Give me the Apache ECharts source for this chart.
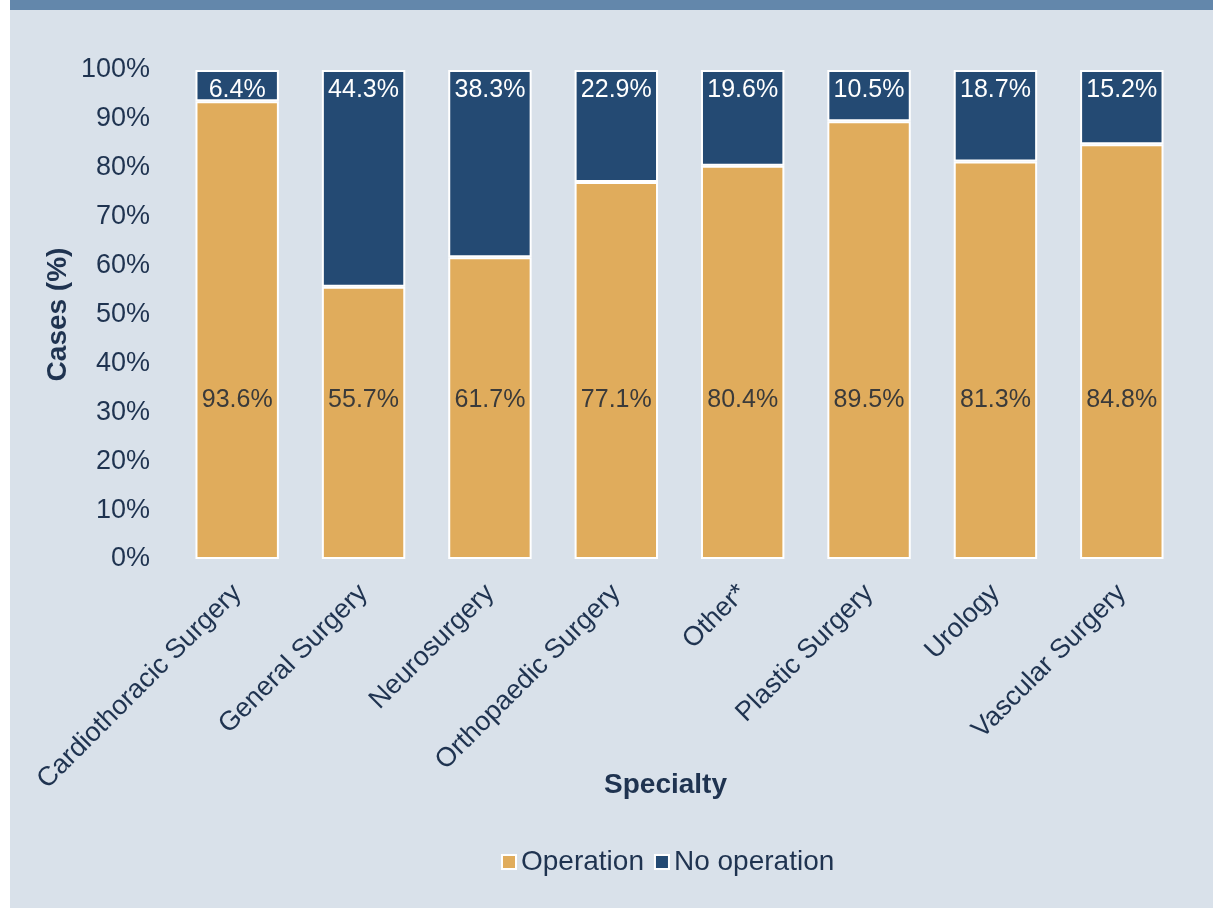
<!DOCTYPE html>
<html>
<head>
<meta charset="utf-8">
<script src="https://cdn.jsdelivr.net/npm/echarts@6/dist/echarts.min.js"></script>
<style>
html,body{margin:0;padding:0;background:#ffffff;}
#wrap{position:absolute;left:10px;top:0;width:1203px;height:908px;background:#d9e1ea;}
#band{position:absolute;left:0;top:0;width:1203px;height:10px;background:#6387ab;}
#chart{position:absolute;left:0;top:10px;width:1203px;height:898px;}
</style>
</head>
<body>
<div id="wrap"><div id="band"></div><div id="chart"></div></div>
<script>
const categories = ['Cardiothoracic Surgery','General Surgery','Neurosurgery','Orthopaedic Surgery','Other*','Plastic Surgery','Urology','Vascular Surgery'];
const operation = [93.6, 55.7, 61.7, 77.1, 80.4, 89.5, 81.3, 84.8];
const noOperation = [6.4, 44.3, 38.3, 22.9, 19.6, 10.5, 18.7, 15.2];
const yTicks = [0,10,20,30,40,50,60,70,80,90,100];

const FONT = 'Liberation Sans, Arial, sans-serif';
const TXT = '#1f3350';
const chart = echarts.init(document.getElementById('chart'));
chart.setOption({
  backgroundColor: 'transparent',
  textStyle: {fontFamily: FONT},
  grid: {left: 164, right: 28, top: 60, bottom: 349, containLabel: false},
  legend: {
    bottom: 27, left: 486,
    itemWidth: 14, itemHeight: 14, itemGap: 10,
    textStyle: {fontSize: 28, color: TXT, fontFamily: FONT},
    data: [
      {name: 'Operation', icon: 'rect', itemStyle: {borderColor: '#fff', borderWidth: 2}},
      {name: 'No operation', icon: 'rect', itemStyle: {borderColor: '#fff', borderWidth: 2}}
    ]
  },
  xAxis: {
    type: 'category', data: categories,
    name: 'Specialty', nameLocation: 'middle', nameGap: 212, nameMoveOverlap: false,
    nameTextStyle: {fontSize: 28, fontWeight: 'bold', color: TXT, fontFamily: FONT, padding: [0, 28, 0, 0]},
    axisLine: {show: false}, axisTick: {show: false},
    axisLabel: {rotate: 45, fontSize: 27, color: TXT, margin: 30, interval: 0, fontFamily: FONT}
  },
  yAxis: {
    type: 'value', min: 0, max: 100, interval: 10,
    name: 'Cases (%)', nameLocation: 'middle', nameGap: 102, nameMoveOverlap: false,
    nameTextStyle: {fontSize: 28, fontWeight: 'bold', color: TXT, fontFamily: FONT},
    splitLine: {show: false}, axisLine: {show: false}, axisTick: {show: false},
    axisLabel: {fontSize: 27, color: TXT, margin: 24, fontFamily: FONT,
      formatter: v => yTicks.includes(v) ? v + '%' : ''}
  },
  series: [
    {
      name: 'Operation', type: 'bar', stack: 's', data: operation, barWidth: '66%',
      itemStyle: {color: '#e0ac5c', borderColor: '#ffffff', borderWidth: 2},
      label: {show: true, position: 'insideBottom', distance: 146, fontSize: 25, color: '#3a3a3a', fontFamily: FONT,
        formatter: p => p.value.toFixed(1) + '%'}
    },
    {
      name: 'No operation', type: 'bar', stack: 's', data: noOperation, barWidth: '66%',
      itemStyle: {color: '#244a73', borderColor: '#ffffff', borderWidth: 2},
      label: {show: true, position: 'insideTop', distance: 8, fontSize: 25, color: '#ffffff', fontFamily: FONT,
        formatter: p => p.value.toFixed(1) + '%'}
    }
  ]
});
</script>
</body>
</html>
